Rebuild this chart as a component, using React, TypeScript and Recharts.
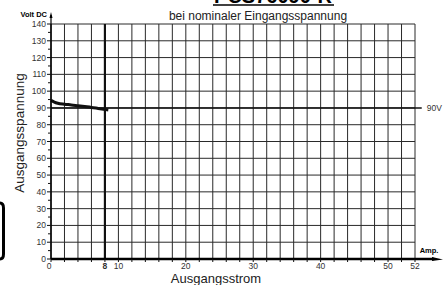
import React from "react";
import { LineChart, Line, XAxis, YAxis, CartesianGrid, ReferenceLine } from "recharts";

// Output current (A) and output voltage (V DC)
const currents = [0, 0.5, 1, 2, 3, 4, 5, 6, 7, 8.5];
const voltages = [94.6, 93.5, 92.8, 92.2, 91.8, 91.3, 90.8, 90.3, 89.7, 88.8];

// Axis ticks and labels
const xTickValues = [0, 2, 4, 6, 8, 10, 12, 14, 16, 18, 20, 22, 24, 26, 28, 30, 32, 34, 36, 38, 40, 42, 44, 46, 48, 50, 52, 54];
const xLabelValues = [0, 8, 10, 20, 30, 40, 50, 54];
const xLabelTexts = ["0", "8", "10", "20", "30", "40", "50", "52"];
const yTickValues = [0, 5, 10, 15, 20, 25, 30, 35, 40, 45, 50, 55, 60, 65, 70, 75, 80, 85, 90, 95, 100, 105, 110, 115, 120, 125, 130, 135, 140];
const yLabelValues = [0, 10, 20, 30, 40, 50, 60, 70, 80, 90, 100, 110, 120, 130, 140];
const nominalVoltage = 90;
const markerCurrent = 8;

const data = currents.map((a, i) => ({ a, v: voltages[i] }));

const FONT = "'Liberation Sans', Arial, sans-serif";

const XTick = (props: any) => {
  const { x, y, payload } = props;
  const idx = xLabelValues.indexOf(payload.value);
  return (
    <g>
      <line x1={x} x2={x} y1={y} y2={y + 3} stroke="#111" strokeWidth={1} />
      {idx >= 0 && (
        <text
          x={x - (payload.value === 0 ? 2 : 0)}
          y={y + 10}
          textAnchor="middle"
          fontSize={8.5}
          fontFamily={FONT}
          fontWeight={payload.value === markerCurrent ? "bold" : "normal"}
          fill="#333"
        >
          {xLabelTexts[idx]}
        </text>
      )}
    </g>
  );
};

const YTick = (props: any) => {
  const { x, y, payload } = props;
  const major = yLabelValues.indexOf(payload.value) >= 0;
  return (
    <g>
      <line x1={x - (major ? 4 : 3)} x2={x} y1={y} y2={y} stroke="#111" strokeWidth={1} />
      {major && (
        <text x={x - 5} y={y + 3} textAnchor="end" fontSize={8.5} fontFamily={FONT} fill="#333">
          {payload.value}
        </text>
      )}
    </g>
  );
};

export default function App() {
  return (
    <div style={{ position: "absolute", left: 0, top: 0, width: 443, height: 285, background: "#fff", fontFamily: FONT }}>
      <LineChart width={443} height={285} data={data} margin={{ top: 24, right: 28, bottom: 0, left: 0 }}>
        <CartesianGrid
          stroke="#2a2a2a"
          strokeWidth={1}
          verticalValues={xTickValues}
          horizontalValues={yLabelValues}
        />
        <XAxis
          dataKey="a"
          type="number"
          domain={[0, 54]}
          ticks={xTickValues}
          interval={0}
          height={26}
          tickSize={0}
          tickMargin={0}
          tickLine={false}
          tick={<XTick />}
          axisLine={{ stroke: "#000", strokeWidth: 2.5 }}
        />
        <YAxis
          type="number"
          domain={[0, 140]}
          ticks={yTickValues}
          interval={0}
          width={51}
          tickSize={0}
          tickMargin={0}
          tickLine={false}
          tick={<YTick />}
          axisLine={{ stroke: "#000", strokeWidth: 1.5 }}
        />
        <ReferenceLine x={markerCurrent} stroke="#111" strokeWidth={2.2} />
        <ReferenceLine
          segment={[{ x: 0, y: nominalVoltage }, { x: 55, y: nominalVoltage }]}
          ifOverflow="visible"
          stroke="#111"
          strokeWidth={1.6}
          label={{ value: "90V", position: "right", offset: 5, fontSize: 8.5, fill: "#333", fontFamily: FONT }}
        />
        <Line
          type="monotone"
          dataKey="v"
          stroke="#111"
          strokeWidth={3}
          dot={false}
          isAnimationActive={false}
        />
      </LineChart>
      <svg
        width={443}
        height={285}
        style={{ position: "absolute", left: 0, top: 0, pointerEvents: "none" }}
      >
        <text x={273} y={3} textAnchor="middle" fontSize={20} fontWeight="bold" fontFamily={FONT} fill="#000">
          PCS76090-R
        </text>
        <line x1={213} x2={334} y1={5} y2={5} stroke="#000" strokeWidth={1.5} />
        <text x={258} y={20} textAnchor="middle" fontSize={12} fontFamily={FONT} fill="#222">
          bei nominaler Eingangsspannung
        </text>
        <text x={47} y={17} textAnchor="end" fontSize={7.5} fontWeight="bold" fontFamily={FONT} fill="#000">
          Volt DC
        </text>
        <line x1={51} x2={51} y1={24} y2={15} stroke="#000" strokeWidth={1.2} />
        <polygon points="51,12 49.5,18 52.5,18" fill="#000" />
        <line x1={415} x2={434} y1={259} y2={259} stroke="#000" strokeWidth={2.5} />
        <polygon points="432,257 443,259.5 432,261" fill="#000" />
        <text x={429} y={253} textAnchor="middle" fontSize={7.5} fontWeight="bold" fontFamily={FONT} fill="#000">
          Amp.
        </text>
        <text x={216} y={283} textAnchor="middle" fontSize={13} fontFamily={FONT} fill="#222">
          Ausgangsstrom
        </text>
        <text
          x={0}
          y={0}
          transform="translate(24,133) rotate(-90)"
          textAnchor="middle"
          fontSize={13.5}
          fontFamily={FONT}
          fill="#222"
        >
          Ausgangsspannung
        </text>
        <path d="M0,203 Q3.5,203 3.5,208 L3.5,254 Q3.5,259 0,259" fill="none" stroke="#000" strokeWidth={3} />
      </svg>
    </div>
  );
}
